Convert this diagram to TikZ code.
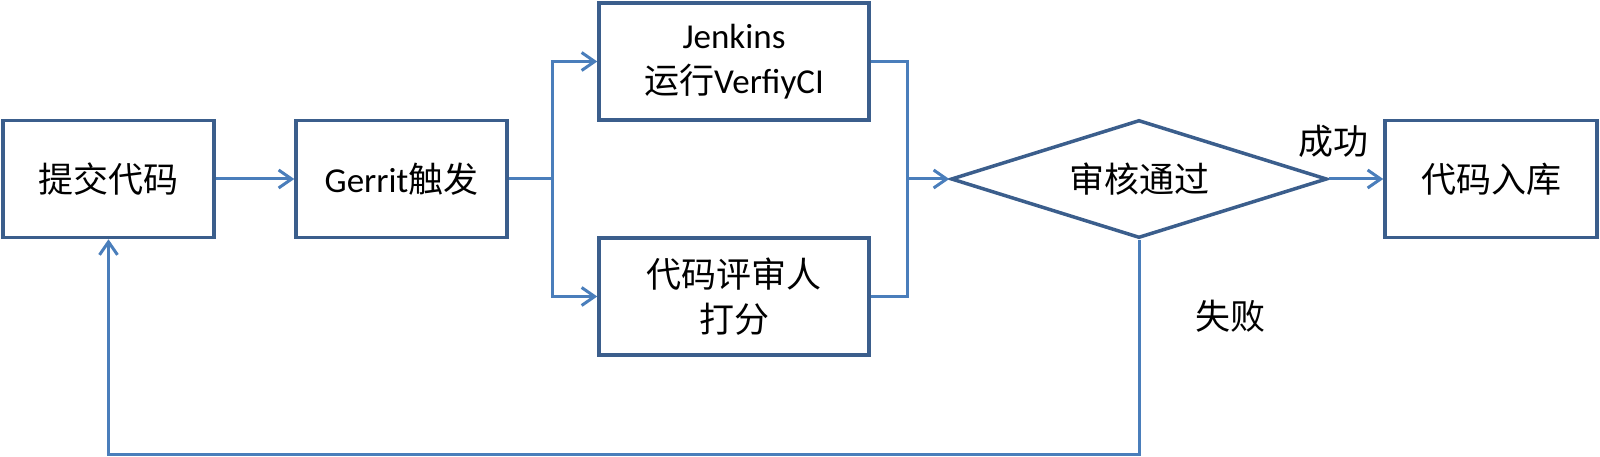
\documentclass[tikz,border=0pt]{standalone}
\usepackage{fontspec}
\setmainfont{Carlito}
\newfontfamily\cjk{Noto Sans CJK SC}
\usetikzlibrary{shapes.geometric,arrows.meta}
\definecolor{boxline}{HTML}{3B5E8C}
\definecolor{conline}{HTML}{4A7EBB}
\tikzset{
  box/.style={draw=boxline, line width=3.5pt, rectangle, inner sep=0pt, align=center,
    font=\fontsize{35}{45}\selectfont},
  deci/.style={draw=boxline, line width=3.5pt, diamond, inner sep=0pt, aspect=3.19,
    minimum width=376pt, minimum height=118pt, font=\fontsize{35}{45}\selectfont},
  con/.style={draw=conline, line width=3pt},
  arr/.style={con, -{Straight Barb[length=13pt,width=18pt]}},
  lbl/.style={font=\fontsize{35}{45}\selectfont, inner sep=0pt}
}
\begin{document}
\begin{tikzpicture}[x=1pt,y=-1pt]
\useasboundingbox (0,0) rectangle (1600,457);
\node[box, minimum width=211pt, minimum height=117pt] (b1) at (108.5,179) {\cjk 提交代码};
\node[box, minimum width=211pt, minimum height=117pt] (b2) at (401.5,179) {Gerrit{\cjk 触发}};
\node[box, minimum width=270pt, minimum height=117pt] (jk) at (734,61.5) {Jenkins\\{\cjk 运行}VerfiyCI};
\node[box, minimum width=270pt, minimum height=117pt] (rv) at (734,296.5) {{\cjk 代码评审人}\\{\cjk 打分}};
\node[deci] (dc) at (1139,179) {\cjk 审核通过};
\node[box, minimum width=212pt, minimum height=117pt] (fin) at (1491,179) {\cjk 代码入库};
\coordinate (sp) at (552,179);
\coordinate (jn) at (907,179);
\draw[con] (b2.east) -- (sp);
\draw[arr] (sp) |- (jk.west);
\draw[arr] (sp) |- (rv.west);
\draw[con] (jk.east) -| (jn);
\draw[con] (rv.east) -| (jn);
\draw[arr] (jn) -- (dc.west);
\draw[arr] (b1.east) -- (b2.west);
\draw[arr] (dc.east) -- (fin.west);
\draw[arr] (dc.south) -- ++(0,215) -| (b1.south);
\node[lbl] (ok) at (1333,141) {\cjk 成功};
\node[lbl] (ng) at (1230,316) {\cjk 失败};
\end{tikzpicture}
\end{document}
